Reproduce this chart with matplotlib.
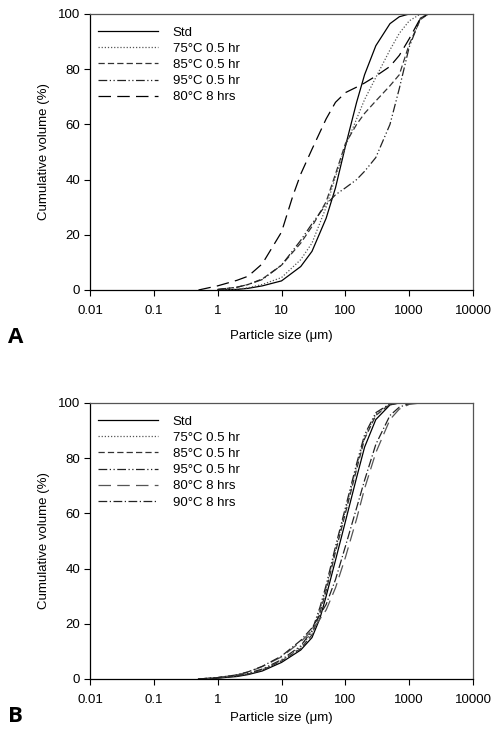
import matplotlib
matplotlib.use("Agg")
import matplotlib.pyplot as plt
import numpy as np

plt.rcParams['font.family'] = ['Liberation Sans', 'DejaVu Sans']

# PANEL A DATA (particle size in um, cumulative volume %)
a_std_x = [1, 2, 3, 5, 10, 20, 30, 50, 70, 100, 150, 200, 300, 500, 700, 1000]
a_std_y = [0, 0.2, 0.6, 1.5, 3.3, 8.5, 14, 26, 37, 52, 68, 78, 88.5, 96.5, 99, 100]

a_75_x = [1, 2, 3, 5, 10, 20, 30, 50, 70, 100, 150, 200, 300, 500, 700, 1000, 1500]
a_75_y = [0, 0.3, 0.8, 2, 4.5, 11, 17, 30, 41, 52, 62, 69, 77, 87, 93, 97.5, 100]

a_85_x = [1, 2, 3, 5, 10, 20, 30, 50, 70, 100, 150, 200, 300, 500, 700, 1000, 1500, 2000]
a_85_y = [0.2, 1, 2, 4, 9, 17, 23, 32, 42, 53, 60, 64, 68.5, 74, 78, 89, 98, 100]

a_95_x = [1, 2, 3, 5, 10, 20, 30, 50, 70, 100, 150, 200, 300, 500, 700, 1000, 1500, 2000]
a_95_y = [0.2, 1, 2, 3.8, 9, 18, 24, 31, 34.5, 37, 40, 43, 48, 60, 73, 88, 98.5, 100]

a_80_x = [0.5, 1, 2, 3, 5, 10, 15, 20, 30, 50, 70, 100, 150, 200, 300, 500, 700, 1000, 1500, 2000]
a_80_y = [0, 1.5, 3.5, 5, 9.5, 21, 34, 42, 51, 62, 68, 71.5, 73.5, 75, 77.5, 81, 85, 91, 98.5, 100]

# PANEL B DATA
b_std_x = [0.5, 1, 2, 3, 5, 10, 20, 30, 40, 50, 70, 100, 150, 200, 300, 500, 700]
b_std_y = [0, 0.3, 0.9, 1.6, 2.9, 6, 10.5, 15, 22, 30, 43, 57, 73, 84, 94, 99.3, 100]

b_75_x = [0.5, 1, 2, 3, 5, 10, 20, 30, 40, 50, 70, 100, 150, 200, 300, 500, 700]
b_75_y = [0, 0.4, 1.1, 1.9, 3.3, 6.6, 11.5, 17, 25, 33, 47, 61, 77, 87.5, 96, 99.6, 100]

b_85_x = [0.5, 1, 2, 3, 5, 10, 20, 30, 40, 50, 70, 100, 150, 200, 300, 500, 700]
b_85_y = [0, 0.4, 1.1, 1.8, 3.2, 6.5, 11, 16, 24, 32, 46, 60, 76, 87, 95.5, 99.5, 100]

b_95_x = [0.5, 1, 2, 3, 5, 10, 20, 30, 40, 50, 70, 100, 150, 200, 300, 500, 700]
b_95_y = [0, 0.5, 1.3, 2.1, 3.6, 7, 12, 17.5, 26, 34, 48, 62, 78, 88.5, 96.5, 99.7, 100]

b_80_x = [0.5, 1, 2, 3, 5, 10, 20, 30, 50, 70, 100, 150, 200, 300, 500, 700, 1000, 1500]
b_80_y = [0, 0.5, 1.5, 2.5, 4.5, 8, 13.5, 17.5, 25, 33, 44, 58, 69, 82, 94, 97.8, 99.5, 100]

b_90_x = [0.5, 1, 2, 3, 5, 10, 20, 30, 50, 70, 100, 150, 200, 300, 500, 700, 1000, 1500]
b_90_y = [0, 0.5, 1.5, 2.6, 4.6, 8.3, 14, 18.5, 27, 36, 48, 62, 72, 85, 95.5, 98.5, 99.8, 100]

labels_a = ["Std", "75\u00b0C 0.5 hr", "85\u00b0C 0.5 hr", "95\u00b0C 0.5 hr", "80\u00b0C 8 hrs"]
labels_b = labels_a + ["90\u00b0C 8 hrs"]

xticks = [0.01, 0.1, 1, 10, 100, 1000, 10000]
xticklabels = ["0.01", "0.1", "1", "10", "100", "1000", "10000"]
yticks = [0, 20, 40, 60, 80, 100]

# LINE STYLES
st_std = dict(color="black", linestyle="-")
st_75 = dict(color="#555555", linestyle=(0, (1, 1.5)))
st_85 = dict(color="#333333", linestyle=(0, (5, 2.5)))
st_95 = dict(color="#222222", linestyle=(0, (7, 2, 1, 2, 1, 2)))
st_80 = dict(color="black", linestyle=(0, (10, 5)))
st_90 = dict(color="#222222", linestyle=(0, (7, 2, 1, 2)))

fig = plt.figure(figsize=(4.93, 7.29), dpi=100)
ax_a = fig.add_axes([0.1826, 0.6022, 0.7769, 0.3786])
ax_b = fig.add_axes([0.1826, 0.0686, 0.7769, 0.3786])

ax_a.plot(a_std_x, a_std_y, lw=0.9, label=labels_a[0], **st_std)
ax_a.plot(a_75_x, a_75_y, lw=0.9, label=labels_a[1], **st_75)
ax_a.plot(a_85_x, a_85_y, lw=0.9, label=labels_a[2], **st_85)
ax_a.plot(a_95_x, a_95_y, lw=0.9, label=labels_a[3], **st_95)
ax_a.plot(a_80_x, a_80_y, lw=0.9, label=labels_a[4], **st_80)

ax_b.plot(b_std_x, b_std_y, lw=0.9, label=labels_b[0], **st_std)
ax_b.plot(b_75_x, b_75_y, lw=0.9, label=labels_b[1], **st_75)
ax_b.plot(b_85_x, b_85_y, lw=0.9, label=labels_b[2], **st_85)
ax_b.plot(b_95_x, b_95_y, lw=0.9, label=labels_b[3], **st_95)
ax_b.plot(b_80_x, b_80_y, lw=0.9, label=labels_b[4], color="#555555", linestyle=(0, (10, 5)))
ax_b.plot(b_90_x, b_90_y, lw=0.9, label=labels_b[5], **st_90)

for ax, letter, ly, lpad in [(ax_a, "A", 0.5295, 9), (ax_b, "B", 0.01, 4)]:
    ax.set_xscale("log")
    ax.set_xlim(0.01, 10000)
    ax.set_ylim(0, 100)
    ax.set_xticks(xticks)
    ax.set_xticklabels(xticklabels)
    ax.set_yticks(yticks)
    ax.minorticks_off()
    ax.tick_params(direction="out", length=4, width=0.8, labelsize=9.5)
    ax.tick_params(axis="x", pad=7)
    ax.tick_params(axis="y", pad=3)
    for s in ["left", "bottom"]:
        ax.spines[s].set_linewidth(0.9)
    for s in ["top", "right"]:
        ax.spines[s].set_linewidth(0.9)
        ax.spines[s].set_color("#555555")
    ax.set_xlabel("Particle size (\u03bcm)", fontsize=9.5, labelpad=lpad)
    ax.set_ylabel("Cumulative volume (%)", fontsize=9.5, labelpad=6)
    ax.legend(loc="upper left", bbox_to_anchor=(0.02, 0.955), frameon=False,
              fontsize=9.5, handlelength=4.6, handletextpad=1.1,
              labelspacing=0.3, borderpad=0, borderaxespad=0)
    fig.text(0.016, ly, letter, fontsize=16, fontweight="bold", family="Open Sans")

fig.savefig("out.png", dpi=100)
